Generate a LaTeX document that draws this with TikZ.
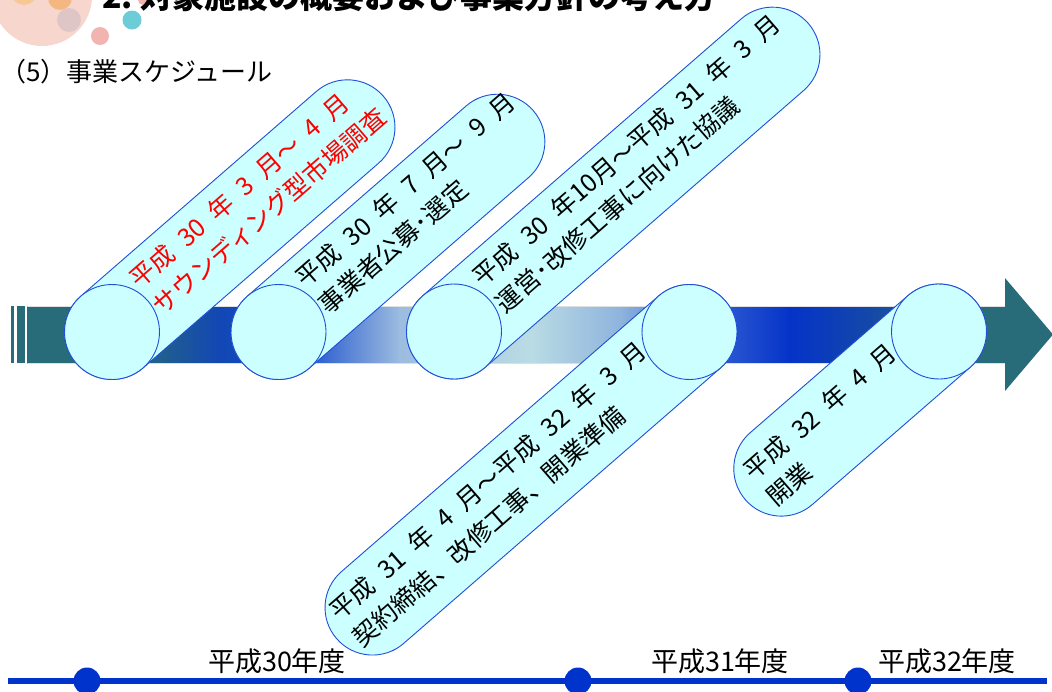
\documentclass[tikz,border=0pt]{standalone}
\usepackage{fontspec}
\setmainfont{Noto Sans CJK JP}
\usetikzlibrary{calc}
\definecolor{pillfill}{HTML}{CCFFFF}
\definecolor{pillline}{HTML}{1F4FD6}
\definecolor{barteal}{HTML}{286B79}
\definecolor{gA}{HTML}{1247B5}
\definecolor{gB}{HTML}{1A4ECC}
\definecolor{gC}{HTML}{9CBCE0}
\definecolor{gD}{HTML}{BADCE4}
\definecolor{gE}{HTML}{8FB4DD}
\definecolor{gF}{HTML}{3A66D4}
\definecolor{gG}{HTML}{0533C8}
\definecolor{gH}{HTML}{1448A8}
\definecolor{tlblue}{HTML}{0033CC}
\definecolor{decoA}{HTML}{F6CFC4}
\definecolor{decoB}{HTML}{F5B070}
\definecolor{decoC}{HTML}{D9C2C4}
\definecolor{decoD}{HTML}{6CCCD8}
\definecolor{decoE}{HTML}{F2B4B0}
\definecolor{decoF}{HTML}{F8C488}
\newcommand\jsp{\hspace{0.5em}}
\newcommand\drawpill[3]{%
  \begin{scope}[shift={#1},rotate=#2]
    \draw[pillbody] (0,-47.5) -- (#3,-47.5) arc[start angle=-90,end angle=90,radius=47.5]
      -- (0,47.5) arc[start angle=90,end angle=270,radius=47.5] -- cycle;
    \draw[pillbody] (0,0) circle[radius=47.5];
  \end{scope}}
\tikzset{
  pillbody/.style={fill=pillfill,draw=pillline,line width=0.9pt},
  ptext/.style={anchor=west,rotate=41,inner sep=0pt,align=left,
    font=\fontsize{25}{35}\selectfont,text=black},
  yearlabel/.style={font=\fontsize{27}{30}\selectfont,inner sep=0pt,text=black},
  dot/.style={fill=tlblue}
}
\begin{document}
\begin{tikzpicture}[x=1pt,y=-1pt]
\useasboundingbox (0,0) rectangle (1052,691);
% decoration
\fill[decoA,opacity=0.85] (42,-4) circle[radius=50];
\fill[decoF,opacity=0.8] (24,-8) circle[radius=13];
\fill[decoB,opacity=0.8] (60,-2) circle[radius=12];
\fill[decoC,opacity=0.8] (69,20) circle[radius=12];
\fill[decoE] (100,36) circle[radius=9];
\fill[decoD] (132,20) circle[radius=9.5];
\fill[decoE] (143,0) circle[radius=5];
% title and heading
\node[anchor=base west,inner sep=0pt,font=\fontsize{32}{36}\selectfont\bfseries] (title) at (102,8) {2.\ 対象施設の概要および事業方針の考え方};
\node[anchor=west,inner sep=0pt,font=\fontsize{26}{30}\selectfont] (sub) at (0,72) {（5）事業スケジュール};
% arrow bar
\fill[barteal] (11,306) rectangle (14,363);
\fill[barteal] (17,306) rectangle (25,363);
\foreach \xa/\xb/\ca/\cb in {28/130/barteal/barteal,130/220/barteal/gA,220/300/gA/gB,300/400/gB/gC,400/530/gC/gD,530/620/gD/gE,620/700/gE/gF,700/790/gF/gG,790/870/gG/gH,870/960/gH/barteal,960/1008/barteal/barteal}{
  \shade[left color=\ca,right color=\cb] (\xa-0.4,306) rectangle (\xb+0.4,363);
}
\draw[gray!25,line width=0.6pt] (28,306) -- (1005,306) (28,363) -- (1005,363);
\fill[barteal] (1005,278) -- (1053,334.5) -- (1005,391) -- cycle;
% pills
\drawpill{(112,332)}{41}{312}
\node[ptext,text=red] (t1) at (145,296) {平成\jsp{}30\jsp{}年\jsp{}3\jsp{}月～\jsp{}4\jsp{}月\\サウンディング型市場調査};
\drawpill{(278.5,332)}{41}{290}
\node[ptext] (t2) at (310.5,295) {平成\jsp{}30\jsp{}年\jsp{}7\jsp{}月～\jsp{}9\jsp{}月\\事業者公募･選定};
\drawpill{(454,331.5)}{41}{422}
\node[ptext] (t3) at (488,294) {平成\jsp{}30\jsp{}年10月～平成\jsp{}31\jsp{}年\jsp{}3\jsp{}月\\運営･改修工事に向けた協議};
\drawpill{(689.5,332)}{221}{420}
\node[ptext] (t4) at (345,628) {平成\jsp{}31\jsp{}年\jsp{}4\jsp{}月～平成\jsp{}32\jsp{}年\jsp{}3\jsp{}月\\契約締結、改修工事、開業準備};
\drawpill{(939,331.5)}{221}{209}
\node[ptext] (t5) at (759,487.5) {平成\jsp{}32\jsp{}年\jsp{}4\jsp{}月\\開業};
% timeline
\draw[tlblue,line width=6pt] (8,681) -- (1047,681);
\fill[dot] (87,681) circle[radius=13.5];
\fill[dot] (578,681) circle[radius=13.5];
\fill[dot] (858,681) circle[radius=13.5];
\node[yearlabel] (y30) at (277,661) {平成30年度};
\node[yearlabel] (y31) at (720,661) {平成31年度};
\node[yearlabel] (y32) at (947,661) {平成32年度};
\end{tikzpicture}
\end{document}
